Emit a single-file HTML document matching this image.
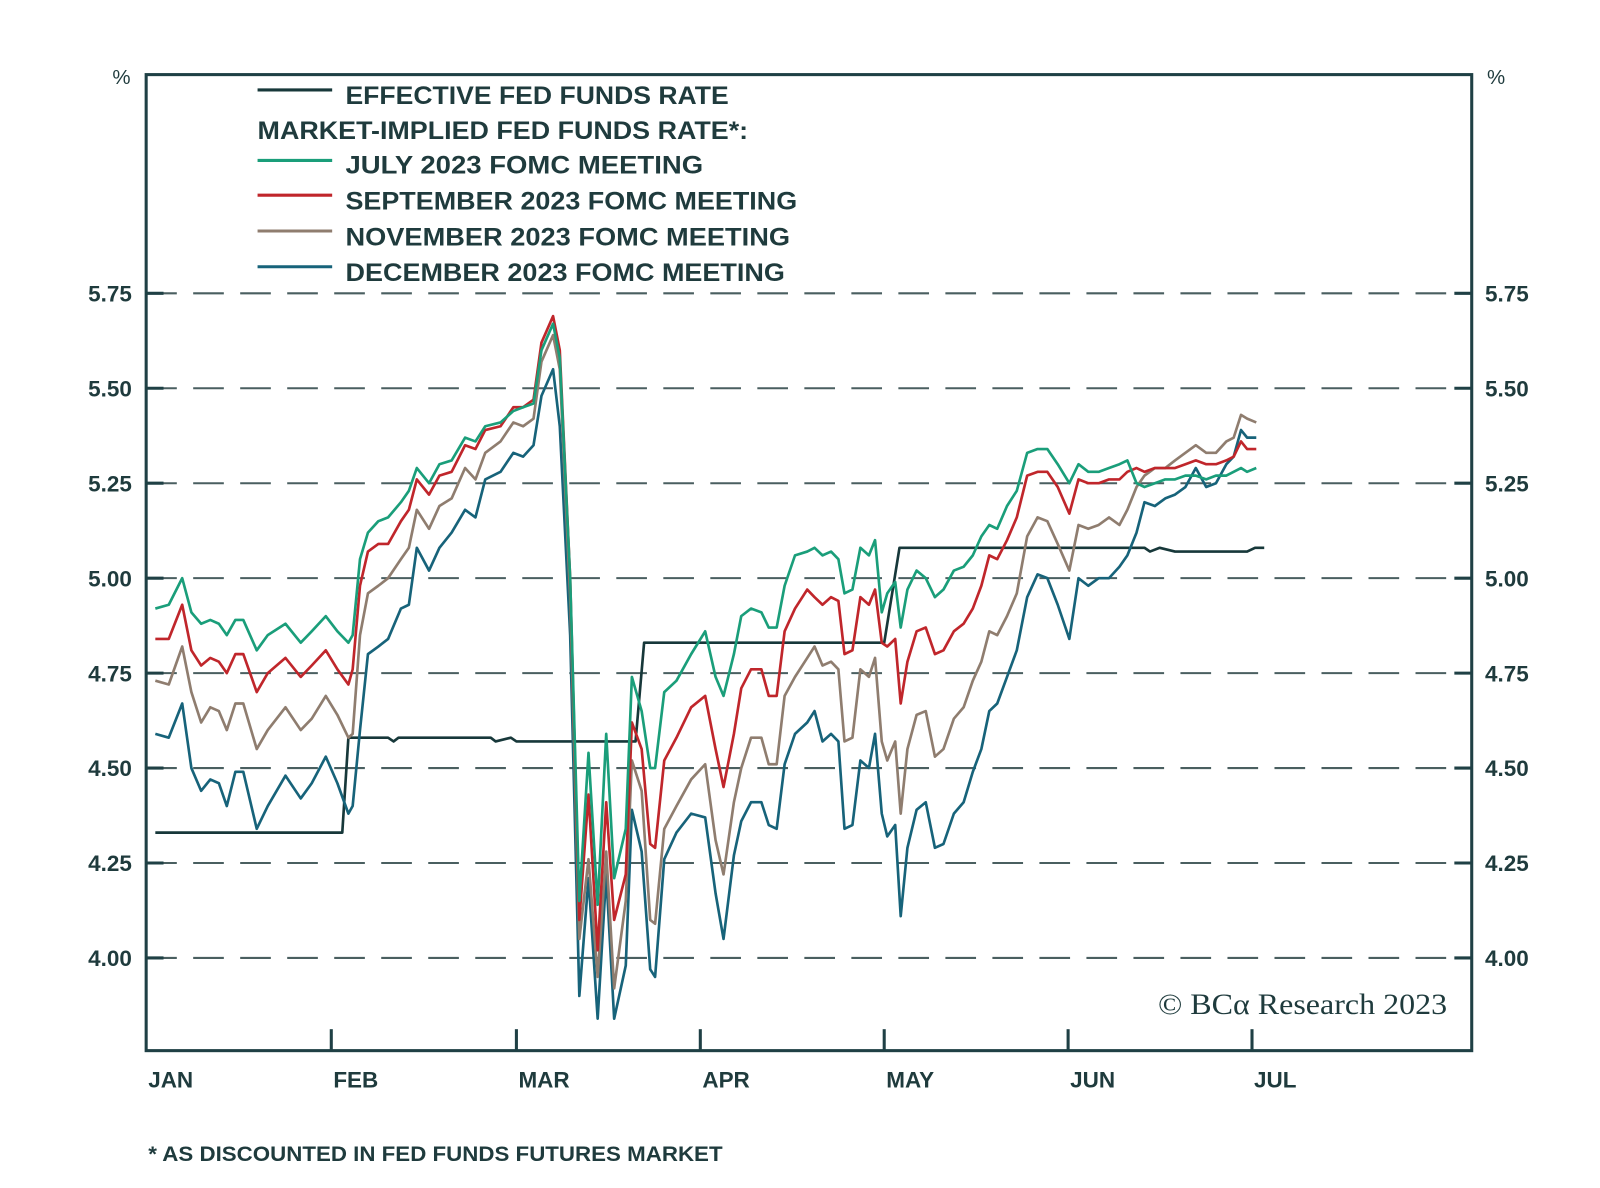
<!DOCTYPE html>
<html><head><meta charset="utf-8"><style>
html,body{margin:0;padding:0;background:#fff;}
svg{display:block;}
text{font-family:"Liberation Sans",sans-serif;fill:#1f3b3d;}
</style></head><body>
<svg id="chart" width="1600" height="1188" viewBox="0 0 1565.5 1162.4" xmlns="http://www.w3.org/2000/svg">
<g id="grid"></g>
<g id="series"></g>
<rect x="143" y="73" width="1297" height="955" fill="none" stroke="#1f4045" stroke-width="3"/>
<g id="axes"></g>
<text x="110" y="82" font-size="20">%</text>
<text x="1455" y="82" font-size="20">%</text>
<g font-size="24" font-weight="bold">
<line x1="252" y1="88" x2="325" y2="88" stroke="#17383a" stroke-width="3"/>
<text x="338" y="102" textLength="375" lengthAdjust="spacingAndGlyphs">EFFECTIVE FED FUNDS RATE</text>
<text x="252" y="136" textLength="480" lengthAdjust="spacingAndGlyphs">MARKET-IMPLIED FED FUNDS RATE*:</text>
<line x1="252" y1="157" x2="325" y2="157" stroke="#1a9e7a" stroke-width="3"/>
<text x="338" y="170" textLength="350" lengthAdjust="spacingAndGlyphs">JULY 2023 FOMC MEETING</text>
<line x1="252" y1="191" x2="325" y2="191" stroke="#c0262b" stroke-width="3"/>
<text x="338" y="205" textLength="442" lengthAdjust="spacingAndGlyphs">SEPTEMBER 2023 FOMC MEETING</text>
<line x1="252" y1="226" x2="325" y2="226" stroke="#8f7d6f" stroke-width="3"/>
<text x="338" y="240" textLength="435" lengthAdjust="spacingAndGlyphs">NOVEMBER 2023 FOMC MEETING</text>
<line x1="252" y1="261" x2="325" y2="261" stroke="#17637a" stroke-width="3"/>
<text x="338" y="275" textLength="430" lengthAdjust="spacingAndGlyphs">DECEMBER 2023 FOMC MEETING</text>
</g>
<text x="1133" y="992" font-size="29" textLength="283" lengthAdjust="spacingAndGlyphs" style="font-family:'Liberation Serif',serif">© BCα Research 2023</text>
<text x="145" y="1136" font-size="21" font-weight="bold" textLength="562" lengthAdjust="spacingAndGlyphs">* AS DISCOUNTED IN FED FUNDS FUTURES MARKET</text>
</svg>
<script>
const yTicks=[5.75,5.50,5.25,5.00,4.75,4.50,4.25,4.00];
const yTickLabels=["5.75","5.50","5.25","5.00","4.75","4.50","4.25","4.00"];
const months=["JAN","FEB","MAR","APR","MAY","JUN","JUL"];
const monthDays=[0,30.3,60.6,90.7,120.8,150.9,181];
const days=[1.5,3.7,5.9,7.4,9.0,10.5,11.9,13.2,14.6,15.9,18.1,19.9,22.8,25.3,27.1,29.4,31.3,33.1,33.8,35.0,36.3,38.0,39.6,41.7,43.0,44.3,46.3,48.0,50.0,52.2,53.9,55.5,58.0,60.1,61.7,63.4,64.7,66.6,67.7,69.4,70.9,72.4,73.9,75.3,76.6,78.5,79.5,81.1,82.5,83.3,84.8,86.8,89.2,91.5,93.2,94.5,96.2,97.4,99.0,100.7,101.9,103.2,104.5,106.2,108.2,109.4,110.7,112.1,113.3,114.3,115.6,116.9,118.3,119.3,120.4,121.3,122.6,123.5,124.6,126.1,127.6,129.1,130.5,132.2,133.8,135.3,136.7,138.0,139.3,140.9,142.5,144.2,145.9,147.5,149.2,151.1,152.6,154.2,155.9,157.6,159.3,160.6,162.1,163.4,165.1,166.8,168.4,170.1,171.8,173.5,175.1,176.8,178.0,179.2,180.2,181.7];
const july=[4.92,4.93,5.00,4.91,4.88,4.89,4.88,4.85,4.89,4.89,4.81,4.85,4.88,4.83,4.86,4.90,4.86,4.83,4.85,5.05,5.12,5.15,5.16,5.20,5.23,5.29,5.25,5.30,5.31,5.37,5.36,5.40,5.41,5.44,5.45,5.46,5.60,5.67,5.58,5.00,4.15,4.54,4.14,4.59,4.21,4.34,4.74,4.65,4.50,4.50,4.70,4.73,4.80,4.86,4.74,4.69,4.80,4.90,4.92,4.91,4.87,4.87,4.98,5.06,5.07,5.08,5.06,5.07,5.05,4.96,4.97,5.08,5.06,5.10,4.91,4.96,4.99,4.87,4.97,5.02,5.00,4.95,4.97,5.02,5.03,5.06,5.11,5.14,5.13,5.19,5.23,5.33,5.34,5.34,5.30,5.25,5.30,5.28,5.28,5.29,5.30,5.31,5.25,5.24,5.25,5.26,5.26,5.27,5.27,5.26,5.27,5.27,5.28,5.29,5.28,5.29];
const september=[4.84,4.84,4.93,4.81,4.77,4.79,4.78,4.75,4.80,4.80,4.70,4.75,4.79,4.74,4.77,4.81,4.76,4.72,4.76,4.98,5.07,5.09,5.09,5.15,5.18,5.26,5.22,5.27,5.28,5.35,5.34,5.39,5.40,5.45,5.45,5.47,5.62,5.69,5.60,5.00,4.10,4.43,4.02,4.41,4.10,4.22,4.62,4.55,4.30,4.29,4.52,4.58,4.66,4.69,4.55,4.45,4.59,4.71,4.76,4.76,4.69,4.69,4.86,4.92,4.97,4.95,4.93,4.95,4.94,4.80,4.81,4.95,4.93,4.97,4.83,4.82,4.84,4.67,4.78,4.86,4.87,4.80,4.81,4.86,4.88,4.92,4.98,5.06,5.05,5.10,5.16,5.27,5.28,5.28,5.24,5.17,5.26,5.25,5.25,5.26,5.26,5.28,5.29,5.28,5.29,5.29,5.29,5.30,5.31,5.30,5.30,5.31,5.32,5.36,5.34,5.34];
const november=[4.73,4.72,4.82,4.70,4.62,4.66,4.65,4.60,4.67,4.67,4.55,4.60,4.66,4.60,4.63,4.69,4.64,4.58,4.59,4.85,4.96,4.98,5.00,5.05,5.08,5.18,5.13,5.19,5.21,5.29,5.26,5.33,5.36,5.41,5.40,5.42,5.57,5.64,5.55,4.95,4.05,4.26,3.95,4.28,3.92,4.15,4.52,4.44,4.10,4.09,4.34,4.40,4.47,4.51,4.31,4.22,4.41,4.50,4.58,4.58,4.51,4.51,4.69,4.74,4.79,4.82,4.77,4.78,4.76,4.57,4.58,4.76,4.74,4.79,4.57,4.52,4.57,4.38,4.55,4.64,4.65,4.53,4.55,4.63,4.66,4.73,4.78,4.86,4.85,4.90,4.96,5.11,5.16,5.15,5.09,5.02,5.14,5.13,5.14,5.16,5.14,5.18,5.24,5.27,5.29,5.29,5.31,5.33,5.35,5.33,5.33,5.36,5.37,5.43,5.42,5.41];
const december=[4.59,4.58,4.67,4.50,4.44,4.47,4.46,4.40,4.49,4.49,4.34,4.40,4.48,4.42,4.46,4.53,4.46,4.38,4.40,4.60,4.80,4.82,4.84,4.92,4.93,5.08,5.02,5.08,5.12,5.18,5.16,5.26,5.28,5.33,5.32,5.35,5.48,5.55,5.40,4.85,3.90,4.21,3.84,4.22,3.84,3.98,4.39,4.28,3.97,3.95,4.26,4.33,4.38,4.37,4.17,4.05,4.27,4.36,4.41,4.41,4.35,4.34,4.51,4.59,4.62,4.65,4.57,4.59,4.57,4.34,4.35,4.52,4.50,4.59,4.38,4.32,4.35,4.11,4.29,4.39,4.41,4.29,4.30,4.38,4.41,4.49,4.55,4.65,4.67,4.74,4.81,4.95,5.01,5.00,4.93,4.84,5.00,4.98,5.00,5.00,5.03,5.06,5.12,5.20,5.19,5.21,5.22,5.24,5.29,5.24,5.25,5.30,5.32,5.39,5.37,5.37];
const effrDays=[1.5,32.1,33.1,39.6,40.5,41.3,56.4,57.2,59.7,60.6,70.9,80.1,81.5,120.8,123.3,163.4,164.3,165.9,168.4,180.2,181.5,183.0];
const effr=[4.33,4.33,4.58,4.58,4.57,4.58,4.58,4.57,4.58,4.57,4.57,4.57,4.83,4.83,5.08,5.08,5.07,5.08,5.07,5.07,5.08,5.08];

const NS="http://www.w3.org/2000/svg";
const X0=143, PX_PER_DAY=5.978;
const xScale=d=>X0+d*PX_PER_DAY;
const yScale=v=>287+(5.75-v)*371.6;
function mk(tag,attrs,parent){const e=document.createElementNS(NS,tag);for(const k in attrs)e.setAttribute(k,attrs[k]);parent.appendChild(e);return e;}
const grid=document.getElementById('grid'),axes=document.getElementById('axes'),ser=document.getElementById('series');
yTicks.forEach((v,i)=>{
  const y=yScale(v);
  const g=mk('line',{x1:143,x2:1440,y1:y,y2:y,stroke:'#4a5f60','stroke-width':2,'stroke-dasharray':'30 16'},grid);
  
  
  const t1=mk('line',{x1:143,x2:160,y1:y,y2:y,stroke:'#1f4045','stroke-width':3},axes);
  
  
  const t2=mk('line',{x1:1423,x2:1440,y1:y,y2:y,stroke:'#1f4045','stroke-width':3},axes);
  
  
  const l=mk('text',{x:129,y:y+8,'font-size':22,'font-weight':'bold','text-anchor':'end'},axes);
  l.textContent=yTickLabels[i];
  
  
  const r=mk('text',{x:1453,y:y+8,'font-size':22,'font-weight':'bold'},axes);
  r.textContent=yTickLabels[i];
  
  
});
months.forEach((m,i)=>{
  const x=xScale(monthDays[i]);
  if(i>0){const t=mk('line',{x1:x,x2:x,y1:1007,y2:1028,stroke:'#1f4045','stroke-width':3},axes);
  
  }
  const l=mk('text',{x:x+2,y:1064,'font-size':22,'font-weight':'bold'},axes);
  l.textContent=m;
  
  
});
function line(ds,vs,color,name,w){
  const p=mk('polyline',{points:ds.map((d,i)=>xScale(d)+','+yScale(vs[i])).join(' '),fill:'none',stroke:color,'stroke-width':w,'stroke-linejoin':'round'},ser);
  
  
}
line(effrDays,effr,'#17383a','effective-fed-funds-line',2.6);
line(days,december,'#17637a','december-fomc-line',2.6);
line(days,november,'#8f7d6f','november-fomc-line',2.6);
line(days,september,'#c0262b','september-fomc-line',2.6);
line(days,july,'#1a9e7a','july-fomc-line',2.6);
</script>
</body></html>
